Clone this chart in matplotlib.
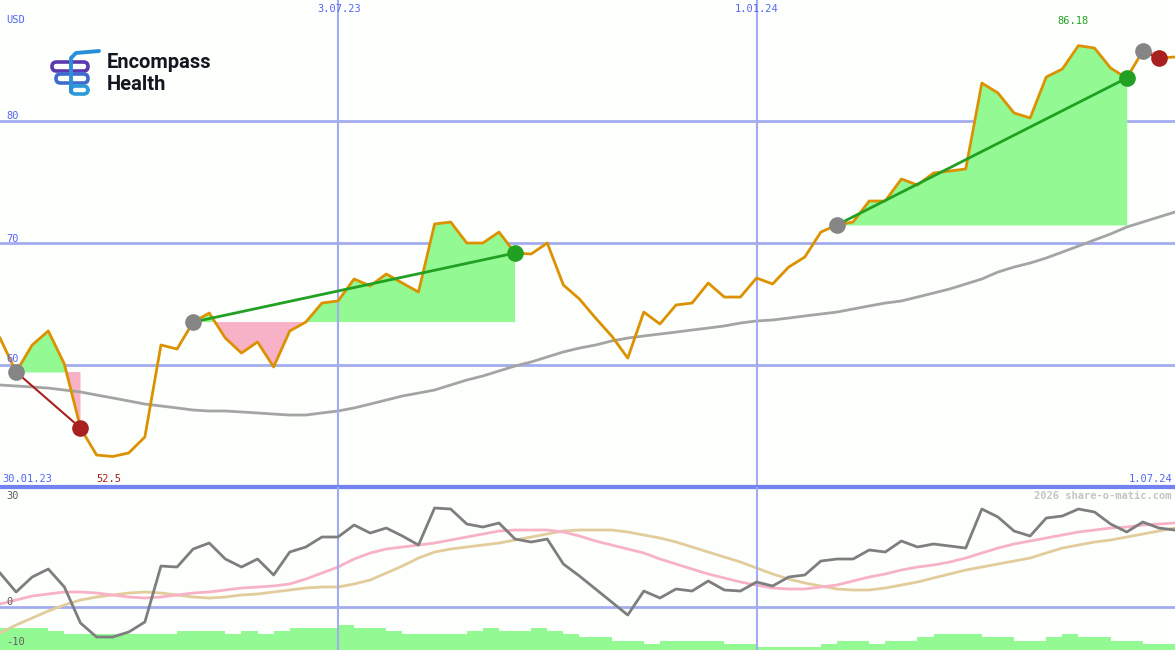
import matplotlib
matplotlib.use("Agg")
import matplotlib.pyplot as plt
from matplotlib.patches import FancyBboxPatch
import numpy as np
import pandas as pd

# недельные данные, 6.02.23 .. 1.07.24
dates = pd.date_range("2023-02-06", periods=74, freq="7D")

price = [62.21, 59.43, 61.64, 62.79, 60.08, 54.84, 52.62, 52.5, 52.79, 54.10,
         61.64, 61.31, 63.52, 64.26, 62.21, 60.98, 61.89, 59.84, 62.79, 63.52,
         65.08, 65.25, 67.05, 66.48, 67.46, 66.72, 65.98, 71.56, 71.72, 70.0,
         70.0, 70.90, 69.18, 69.10, 70.0, 66.56, 65.41, 63.85, 62.38, 60.57,
         64.34, 63.36, 64.92, 65.08, 66.72, 65.57, 65.57, 67.13, 66.64, 68.03,
         68.85, 70.90, 71.48, 71.72, 73.44, 73.44, 75.25, 74.75, 75.74, 75.90,
         76.07, 83.11, 82.30, 80.66, 80.25, 83.61, 84.26, 86.18, 85.98, 84.34,
         83.52, 85.74, 85.16, 85.25]

ma_long = [58.36, 58.28, 58.20, 58.11, 57.95, 57.79, 57.54, 57.30, 57.05, 56.80,
           56.64, 56.48, 56.31, 56.23, 56.23, 56.15, 56.07, 55.98, 55.90, 55.90,
           56.07, 56.23, 56.48, 56.80, 57.13, 57.46, 57.70, 57.95, 58.36, 58.77,
           59.10, 59.51, 59.92, 60.25, 60.66, 61.07, 61.39, 61.64, 61.97, 62.21,
           62.38, 62.54, 62.70, 62.87, 63.03, 63.20, 63.44, 63.61, 63.69, 63.85,
           64.02, 64.18, 64.34, 64.59, 64.84, 65.08, 65.25, 65.57, 65.90, 66.23,
           66.64, 67.05, 67.62, 68.03, 68.36, 68.77, 69.26, 69.75, 70.25, 70.74,
           71.31, 71.72, 72.13, 72.54]

momentum = [9.63, 4.25, 8.50, 10.76, 5.67, -4.53, -8.50, -8.50, -7.08, -4.25,
            11.61, 11.33, 16.43, 18.13, 13.60, 11.33, 13.60, 9.07, 15.58, 17.00,
            19.83, 19.83, 23.23, 20.96, 22.38, 20.11, 17.56, 28.05, 27.76, 23.51,
            22.66, 23.80, 19.26, 18.41, 19.26, 12.18, 8.78, 5.10, 1.42, -2.27,
            4.53, 2.55, 5.10, 4.53, 7.37, 4.82, 4.53, 7.08, 5.95, 8.50,
            9.07, 13.03, 13.60, 13.60, 16.15, 15.58, 18.70, 17.00, 17.85, 17.28,
            16.71, 27.76, 25.50, 21.53, 20.11, 25.21, 25.78, 27.76, 26.91, 23.51,
            21.25, 24.08, 22.38, 21.81]

mom_fast = [0.85, 1.98, 3.12, 3.68, 4.25, 4.25, 3.97, 3.40, 2.83, 2.55,
            2.83, 3.40, 3.97, 4.25, 4.82, 5.38, 5.67, 5.95, 6.52, 7.93,
            9.63, 11.33, 13.60, 15.30, 16.43, 17.00, 17.56, 18.13, 18.98, 19.83,
            20.68, 21.53, 21.81, 21.81, 21.81, 21.25, 20.11, 18.70, 17.56, 16.43,
            15.30, 13.60, 12.18, 10.76, 9.35, 8.22, 7.08, 6.23, 5.38, 5.10,
            5.10, 5.67, 6.23, 7.37, 8.50, 9.35, 10.48, 11.33, 11.90, 12.75,
            13.88, 15.30, 16.71, 17.85, 18.70, 19.55, 20.40, 21.25, 21.81, 22.38,
            22.66, 23.23, 23.51, 23.80]

mom_slow = [-7.37, -5.10, -3.12, -1.13, 0.57, 1.98, 2.83, 3.40, 3.97, 4.25,
            3.97, 3.40, 2.83, 2.55, 2.83, 3.40, 3.68, 4.25, 4.82, 5.38,
            5.67, 5.67, 6.52, 7.65, 9.63, 11.61, 13.88, 15.58, 16.43, 17.00,
            17.56, 18.13, 18.98, 19.83, 20.68, 21.53, 21.81, 21.81, 21.81, 21.25,
            20.40, 19.55, 18.41, 17.00, 15.58, 14.16, 12.75, 11.05, 9.35, 7.93,
            6.80, 5.95, 5.10, 4.82, 4.82, 5.38, 6.23, 7.08, 8.22, 9.35,
            10.48, 11.33, 12.18, 13.03, 13.88, 15.30, 16.71, 17.56, 18.41, 18.98,
            19.83, 20.68, 21.53, 22.38]

vol_level = [7, 7, 7, 6, 5, 5, 5, 5, 5, 5, 5, 6, 6, 6, 5, 6, 5, 6, 7, 7,
             7, 8, 7, 7, 6, 5, 5, 5, 5, 6, 7, 6, 6, 7, 6, 5, 4, 4, 3, 3,
             2, 3, 3, 3, 3, 2, 2, 1, 1, 1, 1, 2, 3, 3, 2, 3, 3, 4, 5, 5,
             5, 4, 4, 3, 3, 4, 5, 4, 4, 3, 3, 2, 2, 2]

# сделки: (вход, выход) - индексы недель
trades = [(1, 5), (12, 32), (52, 70), (71, 72)]

price = np.array(price)
BG = "#fcfffc"
GRID = "#a3acee"
BLUE_TXT = "#5565f5"
W, H = 1175, 650

fig = plt.figure(figsize=[W / 100, H / 100], dpi=100, facecolor=BG)
ax = fig.add_axes([0, 1 - 487 / H, 1, 487 / H], facecolor=BG)
ax2 = fig.add_axes([0, 0, 1, 163 / H], facecolor=BG)
ax3 = ax2.twinx()

x0, x1 = pd.Timestamp("2023-02-06"), pd.Timestamp("2024-07-01")
vlines = [pd.Timestamp("2023-07-03"), pd.Timestamp("2024-01-01")]

# --- основной график
for lvl in [60, 70, 80]:
    ax.axhline(lvl, color=GRID, lw=2, zorder=1)
for d in vlines:
    ax.axvline(d, color=GRID, lw=1.5, zorder=4)
    ax2.axvline(d, color=GRID, lw=1.5, zorder=4)

for a, b in trades:
    seg = slice(a, b + 1)
    lvl = price[a]
    ax.fill_between(dates[seg], price[seg], lvl, where=price[seg] >= lvl,
                    interpolate=True, color="#93f993", lw=0, zorder=2)
    ax.fill_between(dates[seg], price[seg], lvl, where=price[seg] <= lvl,
                    interpolate=True, color="#f8b2c8", lw=0, zorder=2)

ax.plot(dates, ma_long, color="#a4a4a4", lw=2, zorder=3)
ax.plot(dates, price, color="#dc9200", lw=2, zorder=5)

for a, b in trades:
    win = price[b] > price[a]
    col = "#22a022" if win else "#a82020"
    ax.plot([dates[a], dates[b]], [price[a], price[b]], color=col,
            lw=2 if win else 1.5, zorder=6)
    ax.plot(dates[a], price[a], "o", color="#858585", ms=12, mew=0, zorder=7)
    ax.plot(dates[b], price[b], "o", color=col, ms=12, mew=0, zorder=7)

ax.set_xlim(x0, x1)
ax.set_ylim(50, 89.92)
ax.axhline(50, color="#7282ee", lw=3, clip_on=False, zorder=8)

# --- нижний график
ax3.bar(dates, vol_level, width=7, align="edge", color="#93f993", lw=0, zorder=1)
ax3.set_ylim(0, 51.7)
ax2.axhline(0, color=GRID, lw=2, zorder=2)
ax2.plot(dates, mom_slow, color="#e2cc9c", lw=2, zorder=3)
ax2.plot(dates, mom_fast, color="#f8b2c8", lw=2, zorder=3)
ax2.plot(dates, momentum, color="#7e7e7e", lw=2, zorder=4)
ax2.set_zorder(ax3.get_zorder() + 1)
ax2.patch.set_visible(False)
ax3.patch.set_facecolor(BG)
ax2.set_xlim(x0, x1)
ax3.set_xlim(x0, x1)
ax2.set_ylim(-12.18, 34.0)

for a_ in [ax, ax2, ax3]:
    a_.set_xticks([])
    a_.set_yticks([])
    for s in a_.spines.values():
        s.set_visible(False)


def txt(x, y, s, color, ha="left", **kw):
    fig.text(x / W, 1 - y / H, s, color=color, ha=ha, va="center",
             family="DejaVu Sans Mono", fontsize=7.5, **kw)


txt(6, 20, "USD", BLUE_TXT)
txt(6, 116, "80", BLUE_TXT)
txt(6, 239, "70", BLUE_TXT)
txt(6, 359, "60", BLUE_TXT)
txt(339, 9, "3.07.23", BLUE_TXT, ha="center")
txt(757, 9, "1.01.24", BLUE_TXT, ha="center")
txt(1073, 21, "86.18", "#22a022", ha="center")
txt(2, 479, "30.01.23", BLUE_TXT)
txt(96, 479, "52.5", "#a82020")
txt(1172, 479, "1.07.24", BLUE_TXT, ha="right")
txt(6, 496, "30", "#606060")
txt(6, 602, "0", "#606060")
txt(6, 642, "-10", "#606060")
txt(1172, 496, "2026 share-o-matic.com", "#c4c4c4", ha="right", weight="bold")

# логотип
fig.text(107 / W, 1 - 63 / H, "Encompass", family="Roboto", weight="bold",
         fontsize=14.5, color="#151520", va="center")
fig.text(107 / W, 1 - 84 / H, "Health", family="Roboto", weight="bold",
         fontsize=14.5, color="#151520", va="center")
logo = fig.add_axes([48 / W, 1 - 98 / H, 54 / W, 50 / H])
logo.set_xlim(48, 102)
logo.set_ylim(98, 48)
logo.axis("off")
for (xa, xb, ya, yb, c) in [(52, 88, 62, 71, "#5a3aae"), (56, 88, 74, 83, "#3f6ccc"),
                            (71, 88, 86, 94, "#2a9ad8")]:
    logo.add_patch(FancyBboxPatch((xa, ya), xb - xa, yb - ya,
                                  boxstyle="round,pad=0,rounding_size=4.5",
                                  fill=False, ec=c, lw=2.6))
logo.plot([71, 71, 76, 99], [92, 58, 53, 51], color="#2a8fd8", lw=2.8,
          solid_capstyle="round")

fig.savefig("out.png", dpi=100, facecolor=BG)
